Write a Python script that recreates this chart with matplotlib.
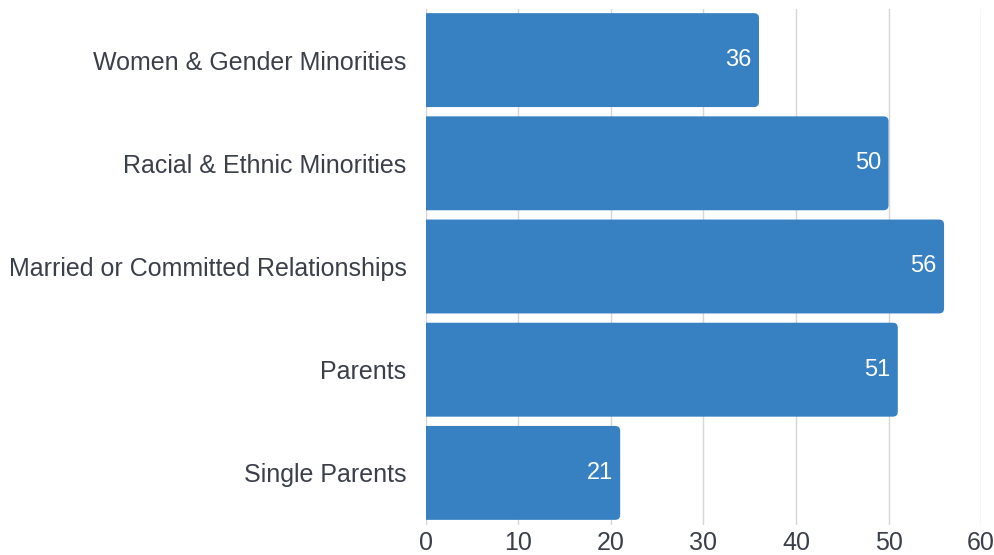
import matplotlib.pyplot as plt
from matplotlib import font_manager
from matplotlib.patches import FancyBboxPatch

# Chart data
categories = ['Women & Gender Minorities', 'Racial & Ethnic Minorities',
              'Married or Committed Relationships', 'Parents', 'Single Parents']
values = [36, 50, 56, 51, 21]
x_ticks = [0, 10, 20, 30, 40, 50, 60]

# find the regular (not narrow) Liberation Sans
font_file = None
for f in font_manager.findSystemFonts():
    if f.endswith('LiberationSans-Regular.ttf'):
        font_file = f
        break
if font_file:
    font_manager.fontManager.addfont(font_file)
    fam = font_manager.FontProperties(fname=font_file).get_name()
else:
    fam = 'DejaVu Sans'
plt.rcParams['font.family'] = [fam, 'DejaVu Sans']

bar_color = '#3781c2'
text_color = '#3b3f4a'

fig = plt.figure(figsize=(9.95, 5.55), dpi=100)
ax_left, ax_bottom, ax_w, ax_h = 0.428, 30.5 / 555, 0.558, 516 / 555
ax = fig.add_axes([ax_left, ax_bottom, ax_w, ax_h])

ypos = list(range(len(categories)))
bar_h = 0.91
ax.set_xlim(0, 60)
ax.set_ylim(len(categories) - 0.5, -0.5)

# rounded bars (right corners rounded, left edge clipped at 0)
px_x = 60 / (ax_w * 995)
px_y = len(categories) / (ax_h * 555)
radius_px = 5
for y, v in zip(ypos, values):
    patch = FancyBboxPatch((-2, y - bar_h / 2), v + 2, bar_h,
                           boxstyle='round,pad=0,rounding_size=%f' % (radius_px * px_x),
                           mutation_aspect=px_y / px_x,
                           facecolor=bar_color, edgecolor='none', zorder=3)
    ax.add_patch(patch)
    ax.text(v - 0.8, y, str(v), ha='right', va='center', color='white',
            fontsize=17, zorder=4)

ax.set_yticks(ypos)
ax.set_yticklabels(categories, fontsize=18, color=text_color)
ax.set_xticks(x_ticks)
ax.set_xticklabels([str(t) for t in x_ticks], fontsize=18, color=text_color)

ax.grid(axis='x', color='#d6d6d6', linewidth=1, zorder=0)
for s in ax.spines.values():
    s.set_visible(False)
ax.tick_params(axis='both', length=0)
ax.tick_params(axis='y', pad=14)
ax.tick_params(axis='x', pad=5)

fig.savefig('out.png', dpi=100)
